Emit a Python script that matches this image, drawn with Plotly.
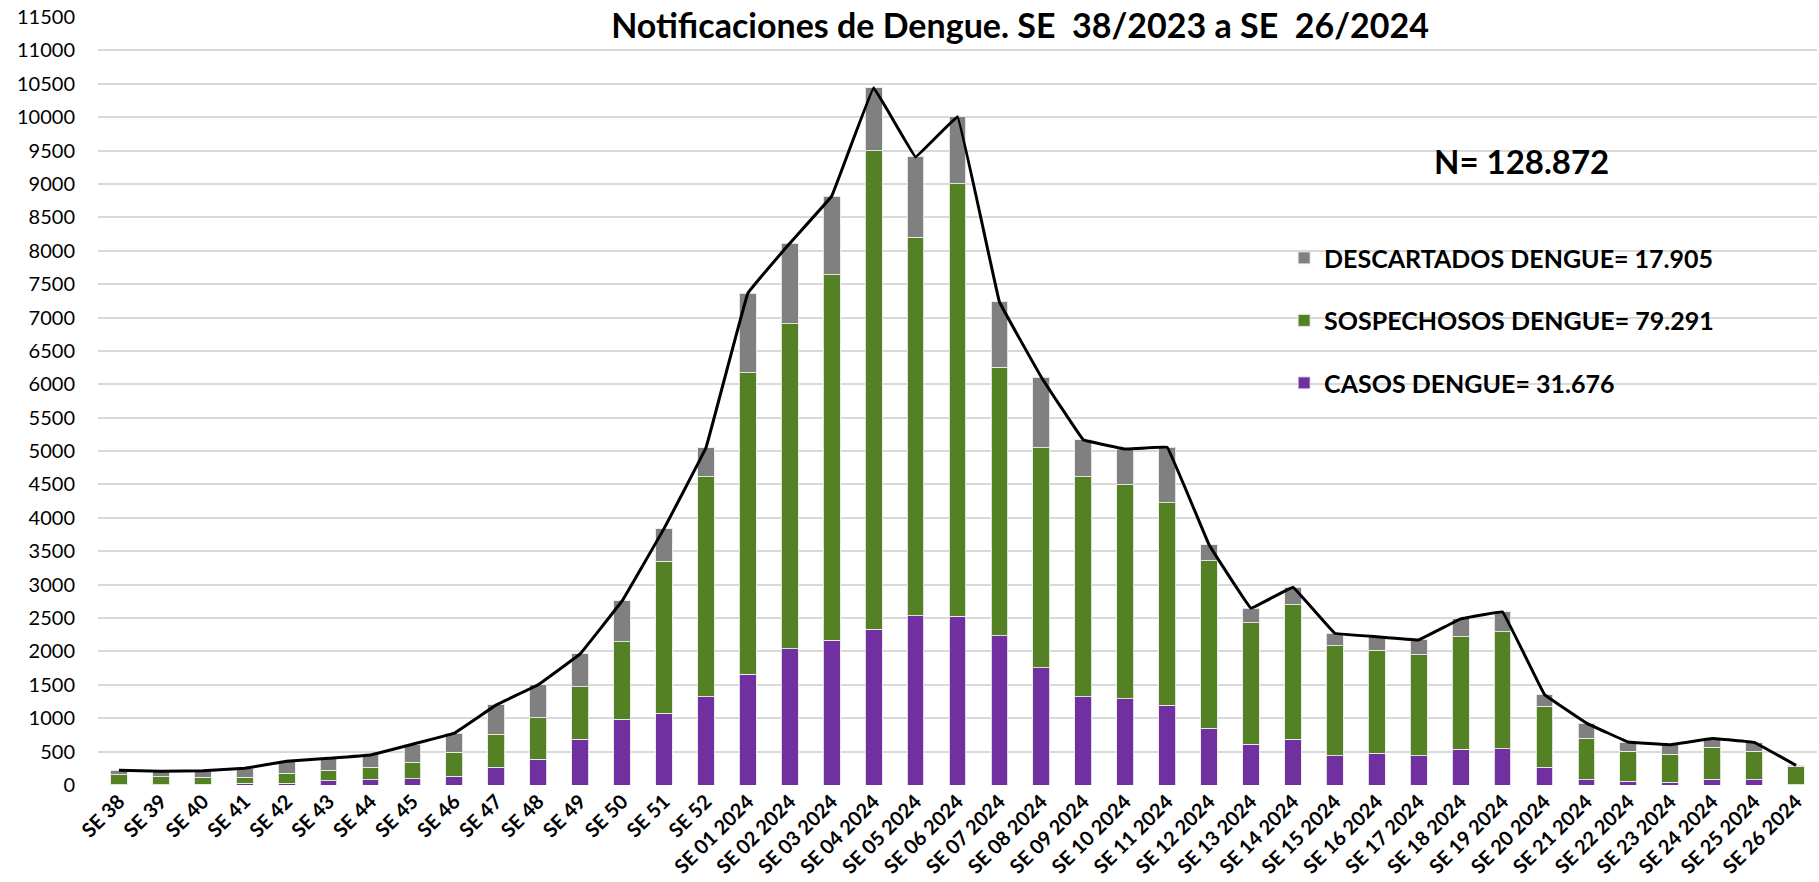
import plotly.graph_objects as go

semanas = ["SE 38", "SE 39", "SE 40", "SE 41", "SE 42", "SE 43", "SE 44", "SE 45", "SE 46",
           "SE 47", "SE 48", "SE 49", "SE 50", "SE 51", "SE 52",
           "SE 01 2024", "SE 02 2024", "SE 03 2024", "SE 04 2024", "SE 05 2024", "SE 06 2024",
           "SE 07 2024", "SE 08 2024", "SE 09 2024", "SE 10 2024", "SE 11 2024", "SE 12 2024",
           "SE 13 2024", "SE 14 2024", "SE 15 2024", "SE 16 2024", "SE 17 2024", "SE 18 2024",
           "SE 19 2024", "SE 20 2024", "SE 21 2024", "SE 22 2024", "SE 23 2024", "SE 24 2024",
           "SE 25 2024", "SE 26 2024"]

casos = [3, 3, 15, 25, 28, 60, 80, 90, 130, 269, 389, 683, 982, 1076, 1325,
         1659, 2038, 2168, 2332, 2536, 2526, 2237, 1754, 1320, 1291, 1191, 847,
         613, 683, 438, 478, 438, 538, 543, 264, 80, 55, 40, 85, 80, 5]

sospechosos = [147, 121, 99, 89, 146, 159, 184, 254, 358, 493, 618, 792, 1166, 2276, 3292,
               4517, 4871, 5475, 7168, 5666, 6474, 4020, 3296, 3295, 3204, 3039, 2510,
               1817, 2017, 1650, 1540, 1515, 1684, 1754, 917, 618, 453, 418, 483, 428, 279]

descartados = [69, 81, 100, 136, 181, 181, 186, 266, 289, 438, 493, 488, 608, 487, 432,
               1188, 1203, 1175, 940, 1202, 1008, 977, 1057, 555, 536, 828, 240,
               218, 262, 184, 202, 220, 265, 294, 174, 229, 135, 145, 127, 130, 10]

total = [c + s + d for c, s, d in zip(casos, sospechosos, descartados)]

titulo = "Notificaciones de Dengue. SE  38/2023 a SE  26/2024"
n_texto = "N= 128.872"
nombre_casos = "CASOS DENGUE= 31.676"
nombre_sosp = "SOSPECHOSOS DENGUE= 79.291"
nombre_desc = "DESCARTADOS DENGUE= 17.905"

FONT = "Lato"
edge = dict(color="rgba(235,235,235,0.9)", width=1)

fig = go.Figure()
fig.add_trace(go.Bar(x=semanas, y=casos, name=nombre_casos, marker=dict(color="#7030A0", line=edge),
                     legendgroup="c", legendrank=3))
fig.add_trace(go.Bar(x=semanas, y=sospechosos, name=nombre_sosp, marker=dict(color="#538124", line=edge),
                     legendgroup="s", legendrank=2))
fig.add_trace(go.Bar(x=semanas, y=descartados, name=nombre_desc, marker=dict(color="#808080", line=edge),
                     legendgroup="d", legendrank=1))
fig.add_trace(go.Scatter(x=semanas, y=total, mode="lines", showlegend=False,
                         line=dict(color="black", width=3, shape="spline", smoothing=0.12)))

W, H = 1819, 882
fig.update_layout(
    width=W, height=H,
    barmode="stack", bargap=0.6,
    paper_bgcolor="white", plot_bgcolor="white",
    margin=dict(l=98, r=2, t=17, b=97),
    font=dict(family=FONT, color="black"),
    title=dict(text="<b>" + titulo + "</b>", x=1020 / W, xanchor="center",
               y=1 - 26 / H, yanchor="middle",
               font=dict(size=34, family=FONT, color="black")),
    legend=dict(x=0.69, xanchor="left", y=0.716, yanchor="top", traceorder="grouped",
                tracegroupgap=27, font=dict(size=25, family=FONT, color="black", weight="bold"),
                bgcolor="rgba(0,0,0,0)"),
    xaxis=dict(type="category", tickangle=-45, showgrid=False, showline=False, ticks="",
               tickfont=dict(size=20, family=FONT, weight="bold", color="black")),
    yaxis=dict(range=[0, 11500], dtick=500, tickformat="d", showgrid=True, gridcolor="#D9D9D9",
               gridwidth=2, zeroline=False, showline=False, ticks="", ticklabelstandoff=22,
               tickfont=dict(size=20, family=FONT, color="black")),
    annotations=[dict(text="<b>" + n_texto + "</b>", xref="paper", yref="paper", x=0.828, y=0.813,
                      xanchor="center", yanchor="middle", showarrow=False,
                      font=dict(size=33, family=FONT, color="black"))],
)

fig.write_html("out.html", config={"displayModeBar": False},
               post_script="document.body.style.margin='0px';")
